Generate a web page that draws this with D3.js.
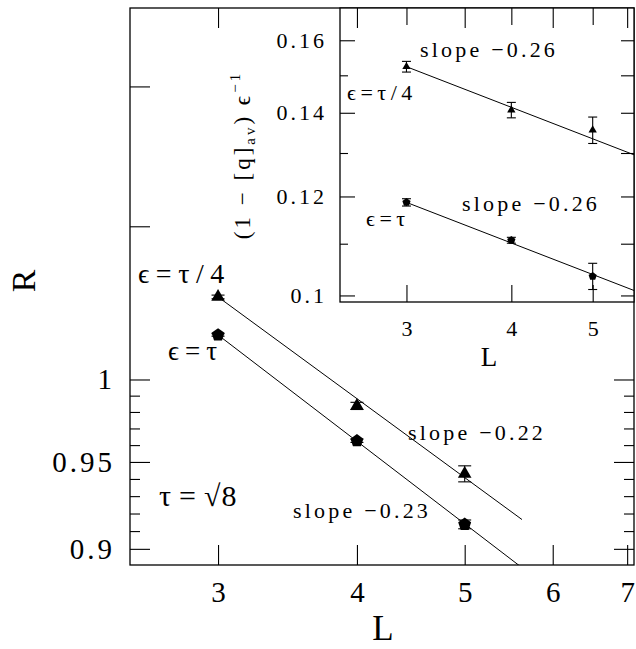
<!DOCTYPE html>
<html>
<head>
<meta charset="utf-8">
<title>R against L</title>
<script src="https://d3js.org/d3.v7.min.js"></script>
<style>
  body { margin: 0; background: #fff; }
  svg { font-family: "Liberation Serif", "DejaVu Serif", serif; }
  .frame { fill: none; stroke: #000; stroke-width: 1.3; }
  .tick line { stroke: #000; stroke-width: 1.1; }
  .tick text { fill: #000; }
  .fit { fill: none; stroke: #000; stroke-width: 1; }
  .err { stroke: #000; stroke-width: 1.1; }
</style>
</head>
<body>
<svg width="636" height="649"></svg>
<script>
// main panel: R against L (log-log)
var mainL = [3, 4, 5];
var rQuarter = [1.0527, 0.9837, 0.9430];      // eps = tau/4, triangles
var rQuarterErr = [0.0012, 0.0022, 0.0047];
var rFull = [1.0281, 0.9626, 0.9138];         // eps = tau, pentagons
var rFullErr = [0.0008, 0.001, 0.0025];
var mainFitStart = [1.0527, 1.0281];          // fit value at L = 3
var mainFitSlope = [-0.22, -0.23];
var mainFitEnd = [5.63, 5.9];

var mainXTicks = [3, 4, 5, 6, 7];
var mainYTicks = [0.9, 0.95, 1, 1.1, 1.2];
var mainYLabelled = [0.9, 0.95, 1];
var mainYMinor = [0.91, 0.92, 0.93, 0.94, 0.96, 0.97, 0.98, 0.99];

// inset: (1 - [q]av) / eps against L (log-log)
var insetL = [3, 4, 5];
var qQuarter = [0.1524, 0.1407, 0.1356];
var qQuarterErr = [0.0015, 0.002, 0.0033];
var qFull = [0.1187, 0.1107, 0.1036];
var qFullErr = [0.0008, 0.0006, 0.0025];
var insetFitStart = [0.1524, 0.1187];
var insetFitSlope = [-0.26, -0.26];
var insetFitEnd = [5.6, 5.6];

var insetXTicks = [3, 4, 5];
var insetYTicks = [0.1, 0.12, 0.14, 0.16];
var insetYMinor = [0.11, 0.13, 0.15];

var svg = d3.select("svg");

var main = {left: 130, top: 8, right: 634, bottom: 565};
var ins = {left: 340, top: 8, right: 634, bottom: 302};

var x = d3.scaleLog().domain([2.5, 7.1]).range([main.left, main.right]);
var y = d3.scaleLog().domain([0.891, 1.26]).range([main.bottom, main.top]);
var xi = d3.scaleLog().domain([2.5, 5.6]).range([ins.left, ins.right]);
var yi = d3.scaleLog().domain([0.0988, 0.1698]).range([ins.bottom, ins.top]);

var pentagon = {
    draw: function(ctx, r) {
        for (var i = 0; i < 5; i++) {
            var a = -Math.PI / 2 + i * 2 * Math.PI / 5;
            if (i === 0) ctx.moveTo(r * Math.cos(a), r * Math.sin(a));
            else ctx.lineTo(r * Math.cos(a), r * Math.sin(a));
        }
        ctx.closePath();
    }
};

svg.append("clipPath").attr("id", "clipMain")
    .append("rect")
    .attr("x", main.left).attr("y", main.top)
    .attr("width", main.right - main.left).attr("height", main.bottom - main.top);
svg.append("clipPath").attr("id", "clipInset")
    .append("rect")
    .attr("x", ins.left).attr("y", ins.top)
    .attr("width", ins.right - ins.left).attr("height", ins.bottom - ins.top);

function fitLine(g, sx, sy, start, slope, end, clip) {
    var pts = [[3, start], [end, start * Math.pow(end / 3, slope)]];
    g.append("path")
        .attr("class", "fit")
        .attr("clip-path", "url(#" + clip + ")")
        .attr("d", d3.line().x(function(d) { return sx(d[0]); }).y(function(d) { return sy(d[1]); })(pts));
}

function points(g, sx, sy, ls, vals, errs, symType, symSize, cap) {
    ls.forEach(function(l, i) {
        var cx = sx(l), lo = sy(vals[i] - errs[i]), hi = sy(vals[i] + errs[i]);
        g.append("line").attr("class", "err").attr("x1", cx).attr("x2", cx).attr("y1", lo).attr("y2", hi);
        g.append("line").attr("class", "err").attr("x1", cx - cap).attr("x2", cx + cap).attr("y1", lo).attr("y2", lo);
        g.append("line").attr("class", "err").attr("x1", cx - cap).attr("x2", cx + cap).attr("y1", hi).attr("y2", hi);
        g.append("path")
            .attr("transform", "translate(" + cx + "," + sy(vals[i]) + ")")
            .attr("d", d3.symbol().type(symType).size(symSize)())
            .attr("fill", "#000");
    });
}

function label(g, txt, px, py, size, spacing) {
    return g.append("text")
        .attr("x", px).attr("y", py)
        .attr("font-size", size)
        .attr("letter-spacing", spacing)
        .text(txt);
}

// ---------- main panel ----------
var gm = svg.append("g");

gm.append("g")
    .attr("transform", "translate(0," + main.bottom + ")")
    .call(d3.axisBottom(x).tickValues(mainXTicks).tickSize(-20).tickPadding(16).tickFormat(d3.format("d")))
    .call(function(a) { a.select(".domain").remove(); })
    .selectAll("text").attr("font-size", 29).attr("font-family", "Liberation Serif");

gm.append("g")
    .attr("transform", "translate(" + main.left + ",0)")
    .call(d3.axisLeft(y).tickValues(mainYTicks).tickSize(-20).tickPadding(15)
        .tickFormat(function(d) { return mainYLabelled.indexOf(d) >= 0 ? String(d) : ""; }))
    .call(function(a) { a.select(".domain").remove(); })
    .selectAll("text").attr("font-size", 29).attr("letter-spacing", 3).attr("font-family", "Liberation Serif");

gm.append("g")
    .attr("transform", "translate(" + main.left + ",0)")
    .call(d3.axisLeft(y).tickValues(mainYMinor).tickSize(-10).tickFormat(""))
    .call(function(a) { a.select(".domain").remove(); });

gm.append("g")
    .attr("transform", "translate(" + main.right + ",0)")
    .call(d3.axisRight(y).tickValues(mainYTicks).tickSize(-20).tickFormat(""))
    .call(function(a) { a.select(".domain").remove(); });

gm.append("g")
    .attr("transform", "translate(" + main.right + ",0)")
    .call(d3.axisRight(y).tickValues(mainYMinor).tickSize(-10).tickFormat(""))
    .call(function(a) { a.select(".domain").remove(); });

for (var k = 0; k < 2; k++) {
    fitLine(gm, x, y, mainFitStart[k], mainFitSlope[k], mainFitEnd[k], "clipMain");
}
points(gm, x, y, mainL, rQuarter, rQuarterErr, d3.symbolTriangle, 80, 6.5);
points(gm, x, y, mainL, rFull, rFullErr, pentagon, 6.8, 6.5);

gm.append("rect").attr("class", "frame")
    .attr("x", main.left).attr("y", main.top)
    .attr("width", main.right - main.left).attr("height", main.bottom - main.top);

label(gm, "ϵ=τ/4", 138, 283, 28, 6.5);
label(gm, "ϵ=τ", 168, 360, 27, 6);
var tau = gm.append("text").attr("x", 159).attr("y", 506).attr("font-size", 30);
tau.append("tspan").attr("letter-spacing", 8).text("τ=");
tau.append("tspan").attr("letter-spacing", 1).text("√8");
label(gm, "slope  −0.22", 408, 440, 22, 3.2);
label(gm, "slope  −0.23", 293, 518, 22, 3.2);

gm.append("text")
    .attr("x", 383).attr("y", 640)
    .attr("text-anchor", "middle").attr("font-size", 35)
    .text("L");
gm.append("text")
    .attr("transform", "translate(35," + 281 + ") rotate(-90)")
    .attr("text-anchor", "middle").attr("font-size", 34)
    .text("R");

// ---------- inset ----------
var gi = svg.append("g");

gi.append("rect")
    .attr("x", ins.left).attr("y", ins.top)
    .attr("width", ins.right - ins.left).attr("height", ins.bottom - ins.top)
    .attr("fill", "#fff");

gi.append("g")
    .attr("transform", "translate(0," + ins.bottom + ")")
    .call(d3.axisBottom(xi).tickValues(insetXTicks).tickSize(-17).tickPadding(18).tickFormat(d3.format("d")))
    .call(function(a) { a.select(".domain").remove(); })
    .selectAll("text").attr("font-size", 22).attr("font-family", "Liberation Serif");

gi.append("g")
    .attr("transform", "translate(0," + ins.top + ")")
    .call(d3.axisTop(xi).tickValues(insetXTicks).tickSize(-17).tickFormat(""))
    .call(function(a) { a.select(".domain").remove(); });

gi.append("g")
    .attr("transform", "translate(" + ins.left + ",0)")
    .call(d3.axisLeft(yi).tickValues(insetYTicks).tickSize(-15).tickPadding(13).tickFormat(function(d) { return String(d); }))
    .call(function(a) { a.select(".domain").remove(); })
    .selectAll("text").attr("font-size", 22).attr("letter-spacing", 3).attr("font-family", "Liberation Serif");

gi.append("g")
    .attr("transform", "translate(" + ins.left + ",0)")
    .call(d3.axisLeft(yi).tickValues(insetYMinor).tickSize(-8).tickFormat(""))
    .call(function(a) { a.select(".domain").remove(); });

gi.append("g")
    .attr("transform", "translate(" + ins.right + ",0)")
    .call(d3.axisRight(yi).tickValues(insetYTicks.concat(insetYMinor)).tickSize(-13).tickFormat(""))
    .call(function(a) { a.select(".domain").remove(); });

for (var j = 0; j < 2; j++) {
    fitLine(gi, xi, yi, insetFitStart[j], insetFitSlope[j], insetFitEnd[j], "clipInset");
}
points(gi, xi, yi, insetL, qQuarter, qQuarterErr, d3.symbolTriangle, 30, 4.5);
points(gi, xi, yi, insetL, qFull, qFullErr, pentagon, 4.3, 4.5);

gi.append("rect").attr("class", "frame")
    .attr("x", ins.left).attr("y", ins.top)
    .attr("width", ins.right - ins.left).attr("height", ins.bottom - ins.top);

// main top ticks show over the inset edge
gi.append("g")
    .attr("transform", "translate(0," + main.top + ")")
    .call(d3.axisTop(x).tickValues(mainXTicks).tickSize(-20).tickFormat(""))
    .call(function(a) { a.select(".domain").remove(); });

label(gi, "slope  −0.26", 420, 57, 22, 3.2);
label(gi, "ϵ=τ/4", 347, 100, 22, 4.5);
label(gi, "slope  −0.26", 462, 211, 22, 3.2);
label(gi, "ϵ=τ", 366, 226, 22, 4.5);

gi.append("text")
    .attr("x", 489).attr("y", 366)
    .attr("text-anchor", "middle").attr("font-size", 27)
    .text("L");

var yl = gi.append("text")
    .attr("transform", "translate(250,155) rotate(-90)")
    .attr("text-anchor", "middle").attr("font-size", 23).attr("letter-spacing", 3);
yl.append("tspan").text("(1  −  [q]");
yl.append("tspan").attr("font-size", 15).attr("dy", 5).text("av");
yl.append("tspan").attr("dy", -5).text(")  ϵ");
yl.append("tspan").attr("font-size", 15).attr("dy", -10).text("−1");
</script>
</body>
</html>
